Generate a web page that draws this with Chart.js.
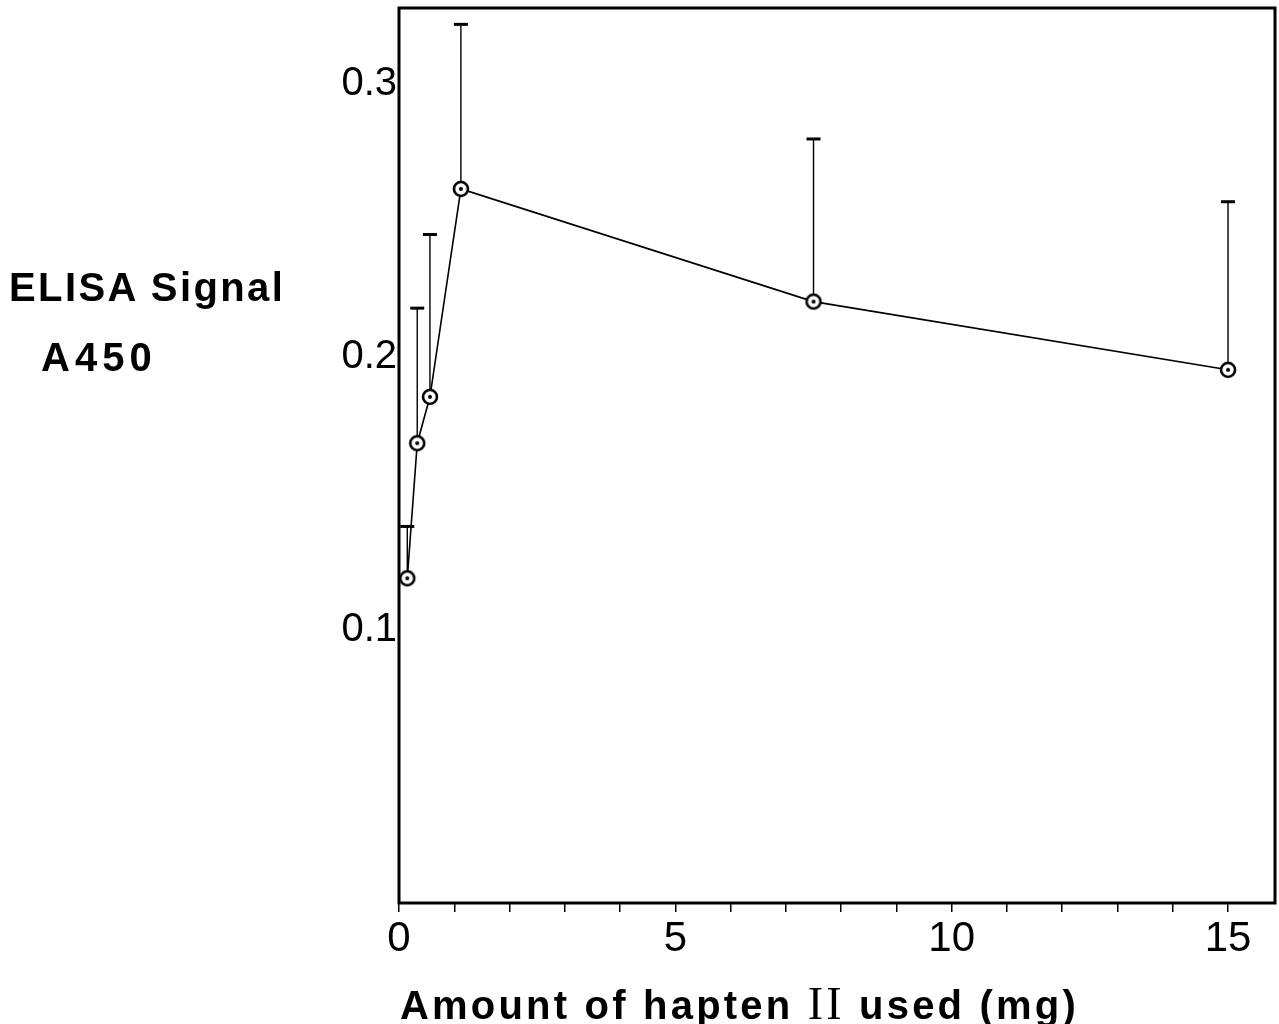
<!DOCTYPE html>
<html>
<head>
<meta charset="utf-8">
<script src="https://cdn.jsdelivr.net/npm/chart.js@4/dist/chart.umd.min.js"></script>
<style>
    body { margin: 0; background: #fff; overflow: hidden; }
    #wrap { position: relative; width: 1279px; height: 1024px; }
    .lbl { position: absolute; font-family: "Liberation Sans", Arial, sans-serif; font-weight: bold; color: #000; white-space: nowrap; }
    .roman { font-family: "Liberation Serif", "Times New Roman", serif; font-weight: normal; font-size: 46px; }
</style>
</head>
<body>
<div id="wrap">
    <canvas id="chart"></canvas>
    <div class="lbl" style="left:9px; top:265px; font-size:40px; letter-spacing:2.4px;">ELISA Signal</div>
    <div class="lbl" style="left:41px; top:335px; font-size:40px; letter-spacing:5px;">A450</div>
    <div class="lbl" style="left:400px; top:977px; font-size:40px; letter-spacing:3.2px;">Amount of hapten <span class="roman">II</span> used (mg)</div>
</div>
<script>
// values
const doseMg = [0.15, 0.33, 0.56, 1.12, 7.5, 15];
const signal = [0.119, 0.1685, 0.1855, 0.2617, 0.2204, 0.1954];
const errTop = [0.138, 0.218, 0.245, 0.322, 0.280, 0.257];
const xTickLabels = [0, 5, 10, 15];
const yTickLabels = [0.1, 0.2, 0.3];

// open circle with a dot in the middle
function makeMarker() {
    const c = document.createElement('canvas');
    c.width = 22; c.height = 22;
    const g = c.getContext('2d');
    g.fillStyle = '#fff';
    g.strokeStyle = '#000';
    g.lineWidth = 2.6;
    g.beginPath(); g.arc(11, 11, 7, 0, Math.PI * 2); g.fill(); g.stroke();
    g.fillStyle = '#000';
    g.beginPath(); g.arc(11, 11, 2, 0, Math.PI * 2); g.fill();
    return c;
}

const errorBars = {
    id: 'errorBars',
    beforeDatasetsDraw(chart) {
        const { ctx, scales: { x, y } } = chart;
        ctx.save();
        ctx.strokeStyle = '#000';
        doseMg.forEach((d, i) => {
            const px = x.getPixelForValue(d);
            const py0 = y.getPixelForValue(signal[i]);
            const py1 = y.getPixelForValue(errTop[i]);
            ctx.lineWidth = 1.4;
            ctx.beginPath(); ctx.moveTo(px, py0); ctx.lineTo(px, py1); ctx.stroke();
            ctx.lineWidth = 3;
            ctx.beginPath(); ctx.moveTo(px - 7, py1); ctx.lineTo(px + 7, py1); ctx.stroke();
        });
        ctx.restore();
    }
};

const frame = {
    id: 'frame',
    afterDraw(chart) {
        const { ctx, chartArea: a } = chart;
        ctx.save();
        ctx.strokeStyle = '#000';
        ctx.lineWidth = 3;
        ctx.strokeRect(a.left, a.top, a.right - a.left, a.bottom - a.top);
        ctx.restore();
    }
};

new Chart(document.getElementById('chart'), {
    type: 'scatter',
    data: {
        datasets: [{
            data: doseMg.map((d, i) => ({ x: d, y: signal[i] })),
            showLine: true,
            borderColor: '#000',
            borderWidth: 1.6,
            pointStyle: makeMarker(),
            pointRadius: 8,
            clip: false
        }]
    },
    options: {
        responsive: true,
        maintainAspectRatio: false,
        animation: false,
        layout: { autoPadding: false, padding: { top: 8, right: 4, left: 0, bottom: 0 } },
        plugins: { legend: { display: false }, tooltip: { enabled: false } },
        scales: {
            x: {
                type: 'linear',
                min: 0,
                max: 15.85,
                afterBuildTicks: s => {
                    // minor marks every 1 mg, numbers only at 0, 5, 10, 15
                    s.ticks = [];
                    for (let v = 0; v <= 15; v++) s.ticks.push({ value: v });
                },
                afterFit: s => { s.height = 121; s.paddingLeft = 0; s.paddingRight = 0; },
                border: { display: false },
                grid: { drawOnChartArea: false, tickLength: 9, color: '#000', lineWidth: 1.5 },
                ticks: {
                    autoSkip: false,
                    maxRotation: 0,
                    padding: 2,
                    color: '#000',
                    font: { family: '"Liberation Sans", Arial, sans-serif', size: 42 },
                    callback: v => xTickLabels.includes(v) ? String(v) : ''
                }
            },
            y: {
                min: 0,
                max: 0.328,
                afterBuildTicks: s => { s.ticks = yTickLabels.map(v => ({ value: v })); },
                afterFit: s => { s.width = 399; s.paddingTop = 0; s.paddingBottom = 0; },
                border: { display: false },
                grid: { display: false },
                ticks: {
                    padding: -6,
                    color: '#000',
                    font: { family: '"Liberation Sans", Arial, sans-serif', size: 40 },
                    callback: v => v.toFixed(1)
                }
            }
        }
    },
    plugins: [errorBars, frame]
});
</script>
</body>
</html>
